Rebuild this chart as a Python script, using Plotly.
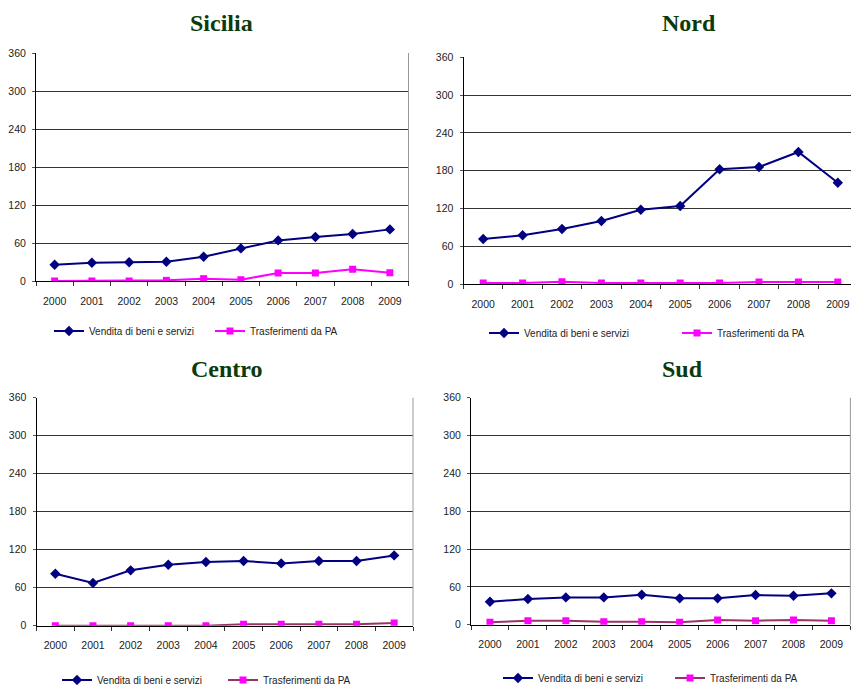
import plotly.graph_objects as go

# Years on the category axis
years = ["2000", "2001", "2002", "2003", "2004", "2005", "2006", "2007", "2008", "2009"]
y_ticks = [0, 60, 120, 180, 240, 300, 360]

# Series per region
sicilia_vendita = [25.7, 28.9, 29.5, 30.5, 38.3, 51.5, 64.1, 69.4, 74.1, 81.5]
sicilia_trasf = [0.0, 0.0, 0.0, 1.0, 3.7, 2.0, 12.6, 12.6, 18.4, 13.1]

nord_vendita = [71.8, 77.7, 87.7, 100.4, 118.3, 124.2, 182.4, 186.0, 209.8, 161.1]
nord_trasf = [2.0, 2.0, 4.0, 2.0, 2.0, 2.0, 2.0, 3.5, 3.5, 3.5]

centro_vendita = [82.1, 67.4, 87.4, 96.3, 100.5, 102.1, 98.4, 102.1, 102.1, 111.0]
centro_trasf = [0.0, 0.0, 0.0, 0.0, 0.0, 2.1, 2.1, 2.1, 2.1, 4.2]

sud_vendita = [36.5, 40.7, 43.3, 43.3, 47.6, 41.8, 41.8, 47.0, 46.0, 49.7]
sud_trasf = [3.7, 6.3, 6.3, 4.8, 4.8, 3.7, 7.4, 6.3, 7.4, 6.3]

series_names = ["Vendita di beni e servizi", "Trasferimenti da PA"]
region_titles = ["Sicilia", "Nord", "Centro", "Sud"]

W, H = 851, 685
NAVY = "#000080"
MAGENTA = "#FF00FF"
MAROON = "#993366"
TEXT_FONT = "Liberation Sans, Arial, sans-serif"


def px_x(v):
    return v / W


def px_y(v):
    return 1 - v / H


# Panel geometry (pixels) and styling
panels = [
    dict(vendita=sicilia_vendita, trasf=sicilia_trasf, tline=MAGENTA,
         left=36, right=408.5, top=53, bottom=281, xrange=[-0.5, 9.5], border=True,
         title_at=(221.5, 23), legend_at=(49, 331), entry=116),
    dict(vendita=nord_vendita, trasf=nord_trasf, tline=MAGENTA,
         left=463.5, right=851, top=57.3, bottom=284.3, xrange=[-0.5, 9.335], border=False,
         title_at=(689, 23), legend_at=(484, 333), entry=148),
    dict(vendita=centro_vendita, trasf=centro_trasf, tline=MAROON,
         left=36.5, right=413, top=397.7, bottom=625.7, xrange=[-0.5, 9.5], border=True,
         title_at=(226.5, 369), legend_at=(57, 680), entry=121),
    dict(vendita=sud_vendita, trasf=sud_trasf, tline=MAROON,
         left=471, right=850.4, top=397.7, bottom=624.7, xrange=[-0.5, 9.5], border=True,
         title_at=(682, 369), legend_at=(498, 678), entry=127),
]

fig = go.Figure()
layout = dict(
    width=W, height=H,
    margin=dict(l=0, r=0, t=0, b=0, autoexpand=False),
    paper_bgcolor="white", plot_bgcolor="white",
    showlegend=True,
    annotations=[], shapes=[],
)

for i, p in enumerate(panels):
    n = "" if i == 0 else str(i + 1)
    xa, ya = "x" + n, "y" + n
    lg = "legend" + n

    fig.add_trace(go.Scatter(
        x=years, y=p["vendita"], name=series_names[0], mode="lines+markers",
        line=dict(color=NAVY, width=2), marker=dict(symbol="diamond", size=8, color=NAVY),
        xaxis=xa, yaxis=ya, legend=lg,
    ))
    fig.add_trace(go.Scatter(
        x=years, y=p["trasf"], name=series_names[1], mode="lines+markers",
        line=dict(color=p["tline"], width=2), marker=dict(symbol="square", size=7, color=MAGENTA),
        xaxis=xa, yaxis=ya, legend=lg,
    ))

    layout["xaxis" + n] = dict(
        domain=[px_x(p["left"]), px_x(p["right"])], anchor=ya,
        type="category", range=p["xrange"], tickson="boundaries",
        ticks="outside", ticklen=4, tickcolor="#333", tickwidth=1,
        showline=True, linecolor="black", linewidth=1, showgrid=False,
        tickangle=0, automargin=False,
        tickfont=dict(family=TEXT_FONT, size=10.5, color="#222"), ticklabelstandoff=10,
        fixedrange=True,
    )
    layout["yaxis" + n] = dict(
        domain=[px_y(p["bottom"]), px_y(p["top"])], anchor=xa,
        range=[0, 360], tickvals=y_ticks, ticks="outside", ticklen=3, tickcolor="#555",
        showline=True, linecolor="black", linewidth=1, automargin=False,
        showgrid=True, gridcolor="#333", gridwidth=1, zeroline=False,
        tickfont=dict(family=TEXT_FONT, size=10.5, color="#222"), ticklabelstandoff=4,
        fixedrange=True,
    )
    if p["border"]:
        layout["shapes"].append(dict(
            type="line", xref=xa + " domain", yref=ya + " domain",
            x0=1, x1=1, y0=0, y1=1, line=dict(color="#999", width=1),
        ))

    layout["annotations"].append(dict(
        text="<b>%s</b>" % region_titles[i], xref="paper", yref="paper",
        x=px_x(p["title_at"][0]), y=px_y(p["title_at"][1]),
        xanchor="center", yanchor="middle", showarrow=False,
        font=dict(family="Liberation Serif, Times New Roman, serif", size=24, color="#0b3b0b"),
    ))

    layout[lg] = dict(
        orientation="h", xref="container", yref="container",
        x=px_x(p["legend_at"][0]), y=px_y(p["legend_at"][1]),
        xanchor="left", yanchor="middle",
        bgcolor="rgba(0,0,0,0)", borderwidth=0,
        entrywidth=p["entry"], entrywidthmode="pixels",
        font=dict(family=TEXT_FONT, size=10, color="#222"),
    )

fig.update_layout(**layout)
fig.write_html("out.html")
